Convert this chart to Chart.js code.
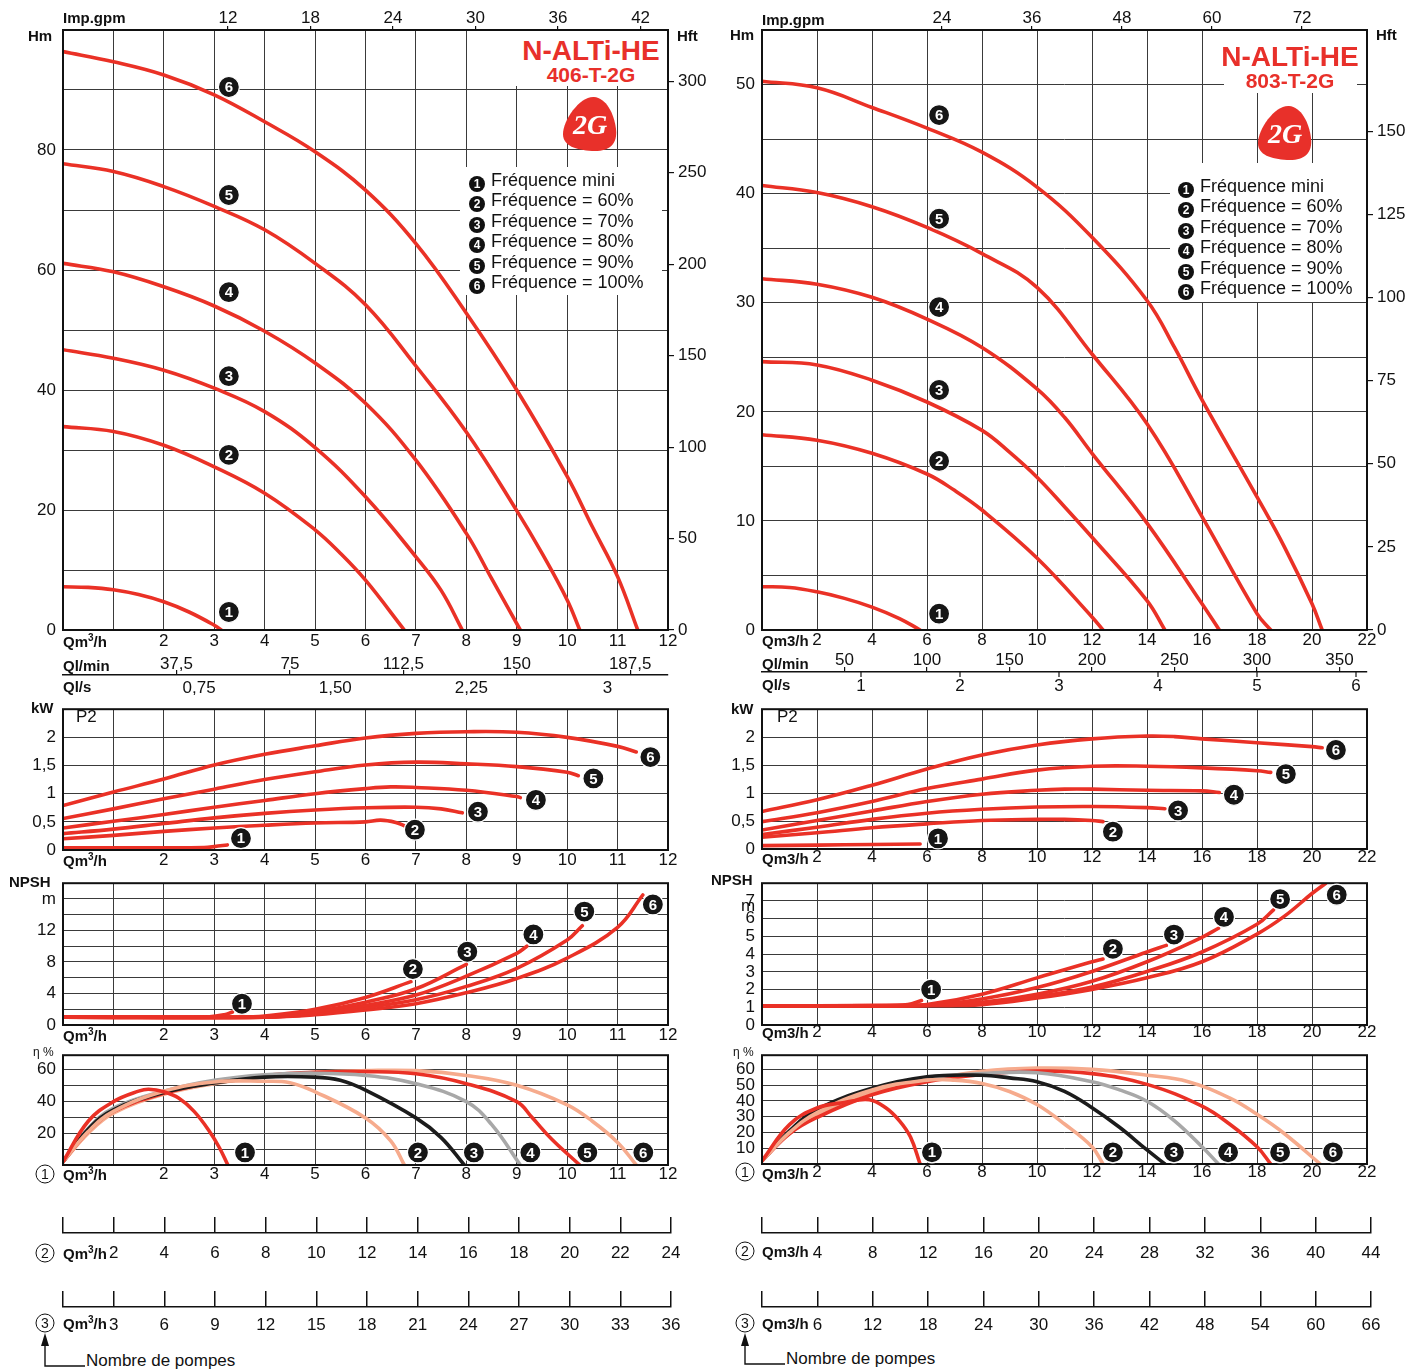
<!DOCTYPE html>
<html><head><meta charset="utf-8">
<script src="https://cdn.jsdelivr.net/npm/chart.js@4.4.1/dist/chart.umd.min.js"></script>
<style>
html,body{margin:0;padding:0;background:#fff;}
#page{position:relative;width:1408px;height:1369px;overflow:hidden;background:#fff;font-family:'Liberation Sans',Arial,sans-serif;color:#111;}
canvas{position:absolute;}
.t{position:absolute;white-space:nowrap;line-height:1;transform:translateY(-50%);}
.b{font-weight:bold;font-size:15px;}
.n{font-size:17px;}
.s{font-size:12px;}
.sup{font-size:10px;position:relative;top:-6px;}
.ring{position:absolute;width:17px;height:17px;border:1.3px solid #111;border-radius:50%;font-size:14px;line-height:17px;text-align:center;transform:translate(-50%,-50%);}
.box{position:absolute;background:#fff;}
.title{position:absolute;color:#e8302a;font-weight:bold;text-align:center;line-height:1;transform:translate(-50%,-50%);white-space:nowrap;}
.leg{position:absolute;font-size:18px;white-space:nowrap;}
.leg div{height:20.4px;line-height:20.4px;}
.dot{display:inline-block;width:16px;height:16px;border-radius:50%;background:#111;color:#fff;font-weight:bold;font-size:12px;line-height:16px;text-align:center;margin-right:6px;vertical-align:-2px;}
</style></head><body><div id="page"></div>
<script>
// valeurs, débit en m3/h
const qLeftMax = 12, qRightMax = 22;
const gpmTicksLeft = [12, 18, 24, 30, 36, 42];
const gpmTicksRight = [24, 36, 48, 60, 72];
const hftTicksLeft = [0, 50, 100, 150, 200, 250, 300];
const hftTicksRight = [0, 25, 50, 75, 100, 125, 150];
const lminTicksLeft = [37.5, 75, 112.5, 150, 187.5];
const lsTicksLeft = [0.75, 1.5, 2.25, 3];
const lminTicksRight = [50, 100, 150, 200, 250, 300, 350];
const lsTicksRight = [1, 2, 3, 4, 5, 6];
const freqLabels = ['Fréquence mini', 'Fréquence = 60%', 'Fréquence = 70%', 'Fréquence = 80%', 'Fréquence = 90%', 'Fréquence = 100%'];

// Hauteur (m) - 406-T-2G
const headLeft = [
  [[0,7.2],[0.5,7.1],[1,6.7],[1.5,5.9],[2,4.7],[2.5,3.0],[3,0.8],[3.14,0]],
  [[0,33.9],[1,33.1],[2,30.8],[3,27.2],[4,22.8],[5,16.7],[5.5,12.8],[6,8.3],[6.77,0]],
  [[0,46.7],[1,45.3],[2,43.3],[3,40.3],[4,36.4],[5,30.4],[6,22.2],[7,12.2],[7.5,6.6],[7.92,0]],
  [[0,61.1],[1,59.7],[2,57.2],[3,54.0],[4,49.8],[5,44.5],[6,37.8],[7,28.3],[8,16.1],[8.5,8.6],[9.07,0]],
  [[0,77.7],[1,76.4],[2,73.9],[3,70.6],[4,66.7],[5,61.1],[6,54.2],[7,44.0],[8,33.0],[9,19.9],[9.5,12.8],[10,5.0],[10.25,0]],
  [[0,96.4],[1,94.7],[2,92.5],[3,89.2],[4,84.7],[5,79.7],[6,73.3],[7,64.4],[8,52.8],[9,40.0],[10,25.6],[10.5,17.2],[11,8.9],[11.4,0]]
];
const headLeftMarks = [[3.29,3.0],[3.29,29.2],[3.29,42.3],[3.29,56.3],[3.29,72.5],[3.29,90.5]];

// Puissance P2 (kW) - 406-T-2G
const powerLeft = [
  [[0,0.04],[1,0.04],[2,0.04],[2.8,0.045],[3,0.06],[3.26,0.09]],
  [[0,0.20],[1,0.26],[2,0.33],[3,0.39],[4,0.44],[5,0.48],[6,0.50],[6.3,0.53],[6.6,0.49],[6.77,0.43]],
  [[0,0.29],[1,0.37],[2,0.47],[3,0.57],[4,0.65],[5,0.71],[6,0.75],[7,0.76],[7.5,0.73],[7.92,0.66]],
  [[0,0.39],[1,0.51],[2,0.63],[3,0.76],[4,0.88],[5,1.0],[6,1.09],[6.5,1.12],[7,1.11],[8,1.06],[9,0.95],[9.07,0.93]],
  [[0,0.56],[1,0.73],[2,0.91],[3,1.08],[4,1.25],[5,1.39],[6,1.51],[7,1.56],[8,1.53],[9,1.48],[10,1.38],[10.22,1.32]],
  [[0,0.79],[1,1.03],[2,1.26],[3,1.51],[4,1.70],[5,1.85],[6,1.99],[7,2.07],[8,2.10],[9,2.09],[10,2.0],[11,1.84],[11.37,1.74]]
];
const powerLeftMarks = [[3.53,0.21],[6.98,0.36],[8.23,0.68],[9.38,0.89],[10.52,1.27],[11.65,1.65]];

// NPSH (m) - 406-T-2G
const npshLeft = [
  [[0,1.0],[2.9,1.05],[3.2,1.3],[3.36,1.65]],
  [[0,1.0],[3.5,1.0],[4,1.15],[5,2.0],[6,3.5],[6.9,5.5]],
  [[0,1.0],[4,1.05],[5,1.7],[6,2.9],[7,4.6],[8,7.7]],
  [[0,1.0],[4,1.0],[5,1.5],[6,2.5],[7,3.8],[8,6.2],[9,9.1],[9.2,10.0]],
  [[0,1.0],[4,1.0],[5,1.4],[6,2.2],[7,3.2],[8,4.9],[9,7.2],[10,10.8],[10.3,12.6]],
  [[0,1.0],[4,1.0],[5,1.3],[6,1.9],[7,2.7],[8,4.1],[9,5.9],[10,8.5],[11,12.4],[11.5,16.5]]
];
const npshLeftMarks = [[3.55,2.7],[6.94,7.1],[8.02,9.3],[9.33,11.5],[10.34,14.4],[11.7,15.3]];

// Rendement (%) - 406-T-2G
const effLeft = [
  [[0,2],[0.5,27.5],[1,39.8],[1.5,46.4],[1.7,47.6],[2,46],[2.3,41.9],[2.6,33.7],[2.9,21.4],[3.1,11],[3.27,0]],
  [[0,2],[0.5,21],[1,33.7],[2,46.4],[3,52.2],[4,52.6],[4.5,51.7],[5,46],[6,29.6],[6.5,15.2],[6.77,0]],
  [[0,2],[0.5,22.5],[1,34.7],[2,45.6],[3,51.5],[4,55.2],[5,55.2],[5.5,53.2],[6,47],[7,29.6],[7.5,17.2],[7.96,0]],
  [[0,2],[0.5,23],[1,35.7],[2,46.4],[3,53.2],[4,56.7],[5,57.7],[6,56.3],[7,51.1],[8,39.8],[8.5,25.5],[9.07,0]],
  [[0,2],[0.5,21],[1,33.7],[2,45],[3,52.2],[4,56.3],[5,58.3],[6,58.7],[7,57.3],[8,51.1],[9,39.8],[9.3,30],[9.7,16],[10.25,0]],
  [[0,2],[0.5,20],[1,32.6],[2,44.4],[3,51.1],[4,55.6],[5,58.3],[6,59.3],[7,59.3],[8,56.3],[9,50.1],[10,37.8],[10.5,27.5],[11,14.2],[11.37,0]]
];
const effLeftMarks = [[3.61,7.9],[7.04,7.9],[8.15,7.9],[9.27,7.9],[10.4,7.9],[11.51,7.9]];

// Hauteur (m) - 803-T-2G
const headRight = [
  [[0,3.97],[1,3.9],[2,3.5],[3,2.9],[4,2.1],[5,1.05],[5.75,0]],
  [[0,17.9],[2,17.4],[4,16.2],[6,14.3],[7,12.8],[8,11.0],[10,6.6],[12,1.2],[12.4,0]],
  [[0,24.6],[2,24.3],[4,22.9],[6,20.9],[8,18.3],[9,16.3],[10,14.0],[11,11.3],[12,8.5],[14,2.7],[14.65,0]],
  [[0,32.2],[2,31.7],[4,30.5],[6,28.5],[8,25.9],[10,22.1],[11,19.5],[12,16.2],[14,9.8],[16,2.4],[16.63,0]],
  [[0,40.75],[2,40.1],[4,38.8],[6,36.9],[8,34.5],[10,31.4],[12,25.3],[14,18.9],[16,10.4],[18,1.5],[18.5,0]],
  [[0,50.3],[2,49.7],[4,47.9],[6,46.0],[8,43.8],[10,40.6],[12,36.0],[14,30.2],[15,25.9],[16,21.1],[18,12.2],[19,7.6],[20,2.4],[20.37,0]]
];
const headRightMarks = [[6.44,1.5],[6.44,15.5],[6.44,22.0],[6.44,29.6],[6.44,37.7],[6.44,47.2]];

// Puissance P2 (kW) - 803-T-2G
const powerRight = [
  [[0,0.06],[2,0.07],[4,0.08],[5.75,0.09]],
  [[0,0.21],[2,0.29],[4,0.38],[6,0.45],[8,0.51],[10,0.53],[11,0.53],[12,0.51],[12.4,0.49]],
  [[0,0.26],[2,0.39],[4,0.53],[6,0.64],[8,0.71],[10,0.75],[12,0.76],[14,0.74],[14.65,0.72]],
  [[0,0.34],[2,0.51],[4,0.68],[6,0.85],[8,0.98],[10,1.05],[11,1.07],[12,1.07],[14,1.05],[16,1.04],[16.63,1.01]],
  [[0,0.49],[2,0.65],[4,0.85],[6,1.08],[8,1.25],[10,1.41],[12,1.48],[14,1.48],[16,1.45],[18,1.40],[18.5,1.37]],
  [[0,0.67],[2,0.88],[4,1.14],[6,1.43],[8,1.68],[10,1.86],[12,1.97],[14,2.02],[15,2.01],[16,1.97],[18,1.90],[20,1.83],[20.37,1.81]]
];
const powerRightMarks = [[6.4,0.19],[12.76,0.31],[15.13,0.69],[17.16,0.97],[19.05,1.34],[20.87,1.77]];

// NPSH (m) - 803-T-2G
const npshRight = [
  [[0,1.08],[4,1.1],[5.3,1.15],[5.8,1.38]],
  [[0,1.08],[5,1.1],[6,1.15],[8,1.74],[10,2.66],[12,3.57],[12.4,3.72]],
  [[0,1.08],[6,1.12],[8,1.47],[10,2.11],[12,3.02],[14,4.12],[14.7,4.49]],
  [[0,1.08],[6,1.1],[8,1.28],[10,1.74],[12,2.47],[14,3.57],[16,4.95],[16.6,5.46]],
  [[0,1.08],[6,1.1],[8,1.19],[10,1.59],[12,2.14],[14,3.02],[16,4.12],[18,5.68],[18.6,6.5]],
  [[0,1.08],[6,1.1],[8,1.15],[10,1.52],[12,2.01],[14,2.66],[16,3.57],[18,5.13],[19,6.14],[20,7.42],[20.5,8.0]]
];
const npshRightMarks = [[6.15,2.0],[12.76,4.3],[14.98,5.1],[16.8,6.1],[18.84,7.1],[20.9,7.35]];

// Rendement (%) - 803-T-2G
const effRight = [
  [[0,2],[1,25],[2,35.5],[3,39],[3.9,40.8],[4.5,35.7],[5,27.4],[5.4,17.1],[5.75,0]],
  [[0,2],[1,20],[2,32.6],[4,47],[6,53.2],[7,53.2],[8,51.1],[9,46],[10,37.7],[11,25.4],[12,10.9],[12.4,0]],
  [[0,2],[1,21],[2,34.6],[4,48],[6,55.3],[8,56.3],[9,54.6],[10,52.2],[11,46],[12,35.7],[13,23.3],[14,8.9],[14.65,0]],
  [[0,2],[1,20.5],[2,33.2],[4,47.4],[6,54.6],[8,57.3],[10,57.9],[12,52.2],[13,47],[14,39.8],[15,27.4],[16,10.9],[16.6,0]],
  [[0,2],[1,19.2],[2,29.5],[4,43.9],[6,52.2],[8,56.7],[10,59],[12,57.3],[14,50.5],[16,36.7],[17,25.4],[18,10.9],[18.5,0]],
  [[0,2],[1,20],[2,31.5],[4,46],[6,53.2],[8,58.8],[10,60.8],[12,60],[14,56.3],[15.5,52.2],[17,41.9],[18,31.5],[19,19.2],[20.3,0]]
];
const effRightMarks = [[6.18,7.4],[12.76,7.4],[14.98,7.4],[16.95,7.4],[18.84,7.4],[20.76,7.4]];

const RED = '#ea3126', SALMON = '#f6ab8d', BLACK = '#1c1c1c', GREY = '#a8a8a8', GRID = '#3a3a3a';
const effColors = [RED, SALMON, BLACK, GREY, RED, SALMON];
const GPM = 3.6661, LPM = 1000 / 60, LPS = 1 / 3.6, FT = 0.3048;
const FONT = "'Liberation Sans', Arial, sans-serif";

Chart.defaults.font.family = FONT;
Chart.defaults.font.size = 17;
Chart.defaults.color = '#111';

const page = document.getElementById('page');

const steps = (max, step) => Array.from({length: Math.floor(max / step + 1e-9) + 1}, (_, i) => ({value: +(i * step).toFixed(6)}));
const comma = v => String(v).replace('.', ',');

function lines(curves, colors) {
  return curves.map((pts, i) => ({
    data: pts.map(([x, y]) => ({x, y})),
    borderColor: colors[i], borderWidth: 3.6, pointRadius: 0,
    tension: 0.4, fill: false, borderCapStyle: 'round'
  }));
}

const frame = {
  id: 'frame',
  afterDatasetsDraw(chart) {
    const {ctx, chartArea: a} = chart;
    ctx.save();
    ctx.strokeStyle = '#111';
    ctx.lineWidth = 2;
    ctx.strokeRect(a.left, a.top, a.right - a.left, a.bottom - a.top);
    ctx.restore();
  }
};

function markers(list) {
  return {
    id: 'markers',
    afterDatasetsDraw(chart) {
      const {ctx, scales: {x, y}} = chart;
      ctx.save();
      list.forEach(([q, v], i) => {
        const px = x.getPixelForValue(q), py = y.getPixelForValue(v);
        ctx.beginPath();
        ctx.arc(px, py, 10.5, 0, Math.PI * 2);
        ctx.fillStyle = '#161616';
        ctx.fill();
        ctx.lineWidth = 1.2;
        ctx.strokeStyle = '#fff';
        ctx.stroke();
        ctx.fillStyle = '#fff';
        ctx.font = 'bold 15px ' + FONT;
        ctx.textAlign = 'center';
        ctx.textBaseline = 'middle';
        ctx.fillText(String(i + 1), px, py + 1);
      });
      ctx.restore();
    }
  };
}

const downTicks = {
  id: 'downTicks',
  afterDraw(chart) {
    const s = chart.scales.ls, ctx = chart.ctx, y0 = chart.chartArea.top;
    ctx.save();
    ctx.strokeStyle = '#111';
    ctx.lineWidth = 1.2;
    s.ticks.forEach(t => {
      const x = s.getPixelForValue(t.value);
      ctx.beginPath(); ctx.moveTo(x, y0); ctx.lineTo(x, y0 + 5); ctx.stroke();
    });
    ctx.restore();
  }
};

function panel(rect, m, cfg) {
  const c = document.createElement('canvas');
  const w = rect.r - rect.l + m.l + m.r, h = rect.b - rect.t + m.t + m.b;
  c.width = w; c.height = h;
  c.style.left = (rect.l - m.l) + 'px';
  c.style.top = (rect.t - m.t) + 'px';
  c.style.width = w + 'px';
  c.style.height = h + 'px';
  page.appendChild(c);
  cfg.options = Object.assign({
    responsive: false, animation: false, devicePixelRatio: 1, events: [],
    plugins: {legend: {display: false}, tooltip: {enabled: false}}
  }, cfg.options);
  return new Chart(c, cfg);
}

function xScale(o, m) {
  return {
    type: 'linear', min: 0, max: o.qMax,
    afterBuildTicks: s => { s.ticks = steps(o.qMax, o.qStep); },
    afterFit: s => { s.height = m.b; },
    ticks: {autoSkip: false, maxRotation: 0, padding: o.xPad, callback: v => v < o.qHide ? '' : v},
    grid: {color: GRID, lineWidth: 1, drawTicks: false},
    border: {display: false}
  };
}

function yScale(o, m) {
  return {
    type: 'linear', min: 0, max: o.yMax,
    afterBuildTicks: s => { s.ticks = steps(o.yMax, o.yStep); },
    afterFit: s => { s.width = m.l; },
    ticks: {autoSkip: false, padding: 7, callback: o.yLabel},
    grid: {color: GRID, lineWidth: 1, drawTicks: false},
    border: {display: false}
  };
}

function headPanel(rect, curves, marks, o) {
  const m = {l: 60, t: 30, r: 60, b: 22};
  return panel(rect, m, {
    type: 'line',
    data: {datasets: lines(curves, curves.map(() => RED))},
    options: {
      layout: {padding: 0},
      scales: {
        x: xScale(o, m),
        gpm: {
          type: 'linear', position: 'top', min: 0, max: o.qMax * GPM,
          afterBuildTicks: s => { s.ticks = o.gpm.map(v => ({value: v})); },
          afterFit: s => { s.height = m.t; },
          ticks: {autoSkip: false, maxRotation: 0, padding: -3},
          grid: {drawOnChartArea: false, drawTicks: true, tickLength: 4, color: '#111', lineWidth: 1.2},
          border: {display: false}
        },
        y: yScale(o, m),
        hft: {
          type: 'linear', position: 'right', min: 0, max: o.yMax / FT,
          afterBuildTicks: s => { s.ticks = o.hft.map(v => ({value: v})); },
          afterFit: s => { s.width = m.r; },
          ticks: {autoSkip: false, padding: 4},
          grid: {drawOnChartArea: false, drawTicks: true, tickLength: 6, color: '#111', lineWidth: 1.2},
          border: {display: false}
        }
      }
    },
    plugins: [frame, markers(marks)]
  });
}

function plainPanel(rect, curves, colors, marks, o) {
  const m = {l: 60, t: 14, r: 50, b: 22};
  return panel(rect, m, {
    type: 'line',
    data: {datasets: lines(curves, colors)},
    options: {
      layout: {padding: {top: m.t, right: m.r}},
      scales: {x: xScale(o, m), y: yScale(o, m)}
    },
    plugins: [frame, markers(marks)]
  });
}

function qlPanel(rect, o) {
  const m = {l: 10, t: 26, r: 40, b: 26};
  return panel(rect, m, {
    type: 'line',
    data: {datasets: []},
    options: {
      layout: {padding: {left: m.l, right: m.r}},
      scales: {
        lmin: {
          type: 'linear', position: 'top', min: 0, max: o.qMax * LPM,
          afterBuildTicks: s => { s.ticks = o.lmin.map(v => ({value: v})); },
          afterFit: s => { s.height = m.t; },
          ticks: {autoSkip: false, maxRotation: 0, padding: o.topPad, callback: comma},
          grid: {drawOnChartArea: false, drawTicks: true, tickLength: 5, color: '#111', lineWidth: 1.2},
          border: {display: true, color: '#111', width: 1.6}
        },
        ls: {
          type: 'linear', position: 'bottom', min: 0, max: o.qMax * LPS,
          afterBuildTicks: s => { s.ticks = o.ls.map(v => ({value: v})); },
          afterFit: s => { s.height = m.b; },
          ticks: {autoSkip: false, maxRotation: 0, padding: o.botPad,
            callback: v => Number.isInteger(v) ? String(v) : v.toFixed(2).replace('.', ',')},
          grid: {display: false}, border: {display: false}
        },
        y: {display: false}
      }
    },
    plugins: o.down ? [downTicks] : []
  });
}

function rowPanel(rect, o) {
  const m = {l: 10, t: 4, r: 40, b: 30};
  return panel(rect, m, {
    type: 'line',
    data: {datasets: []},
    options: {
      layout: {padding: {left: m.l, right: m.r, top: m.t}},
      scales: {
        x: {
          type: 'linear', position: 'bottom', min: 0, max: o.max,
          afterBuildTicks: s => { s.ticks = steps(o.max, o.step); },
          afterFit: s => { s.height = m.b; },
          ticks: {autoSkip: false, maxRotation: 0, padding: o.pad, callback: v => v ? v : ''},
          grid: {color: '#111', lineWidth: 1.5, drawTicks: false},
          border: {display: true, color: '#111', width: 1.6}
        },
        y: {display: false}
      }
    }
  });
}

// ---- colonne gauche : 406-T-2G ----
const L = {l: 63, r: 668};
headPanel({...L, t: 30, b: 630}, headLeft, headLeftMarks,
  {qMax: qLeftMax, qStep: 1, qHide: 2, xPad: 1, yMax: 100, yStep: 10, gpm: gpmTicksLeft, hft: hftTicksLeft,
   yLabel: v => (v % 20 === 0 && v < 100) ? v : ''});
qlPanel({...L, t: 675, b: 676}, {qMax: qLeftMax, lmin: lminTicksLeft, ls: lsTicksLeft, topPad: -5, botPad: -6});
plainPanel({...L, t: 706, b: 850}, powerLeft, powerLeft.map(() => RED), powerLeftMarks,
  {qMax: qLeftMax, qStep: 1, qHide: 2, xPad: 0, yMax: 2.5, yStep: 0.5, yLabel: v => v < 2.5 ? comma(v) : ''});
plainPanel({...L, t: 880, b: 1025}, npshLeft, npshLeft.map(() => RED), npshLeftMarks,
  {qMax: qLeftMax, qStep: 1, qHide: 2, xPad: 0, yMax: 18, yStep: 2,
   yLabel: v => v === 16 ? 'm' : (v % 4 === 0 && v <= 12 ? v : '')});
plainPanel({...L, t: 1052, b: 1165}, effLeft, effColors, effLeftMarks,
  {qMax: qLeftMax, qStep: 1, qHide: 2, xPad: -1, yMax: 69, yStep: 10,
   yLabel: v => (v === 20 || v === 40 || v === 60) ? v : ''});
rowPanel({l: 63, r: 671, t: 1217, b: 1233}, {max: 24, step: 2, pad: 10});
rowPanel({l: 63, r: 671, t: 1291, b: 1307}, {max: 36, step: 3, pad: 8});

// ---- colonne droite : 803-T-2G ----
const R = {l: 762, r: 1367};
headPanel({...R, t: 30, b: 630}, headRight, headRightMarks,
  {qMax: qRightMax, qStep: 2, qHide: 1, xPad: 0, yMax: 55, yStep: 5, gpm: gpmTicksRight, hft: hftTicksRight,
   yLabel: v => (v % 10 === 0 && v <= 50) ? v : ''});
qlPanel({...R, t: 672, b: 673}, {qMax: qRightMax, lmin: lminTicksRight, ls: lsTicksRight, topPad: -4, botPad: -5, down: true});
plainPanel({...R, t: 706, b: 849}, powerRight, powerRight.map(() => RED), powerRightMarks,
  {qMax: qRightMax, qStep: 2, qHide: 1, xPad: -2, yMax: 2.5, yStep: 0.5, yLabel: v => v < 2.5 ? comma(v) : ''});
plainPanel({...R, t: 880, b: 1025}, npshRight, npshRight.map(() => RED), npshRightMarks,
  {qMax: qRightMax, qStep: 2, qHide: 1, xPad: -3, yMax: 8, yStep: 1, yLabel: v => v < 8 ? v : ''});
plainPanel({...R, t: 1052, b: 1164}, effRight, effColors, effRightMarks,
  {qMax: qRightMax, qStep: 2, qHide: 1, xPad: -2, yMax: 69, yStep: 10,
   yLabel: v => (v > 0 && v <= 60) ? v : ''});
rowPanel({l: 762, r: 1371, t: 1217, b: 1233}, {max: 44, step: 4, pad: 10});
rowPanel({l: 762, r: 1371, t: 1291, b: 1307}, {max: 66, step: 6, pad: 8});

// ---- textes et cartouches ----
function txt(html, x, y, cls) {
  const d = document.createElement('div');
  d.className = 't ' + (cls || '');
  d.innerHTML = html;
  d.style.left = x + 'px';
  d.style.top = y + 'px';
  page.appendChild(d);
  return d;
}
function ring(n, x, y) {
  const d = document.createElement('div');
  d.className = 'ring';
  d.textContent = n;
  d.style.left = x + 'px';
  d.style.top = y + 'px';
  page.appendChild(d);
}
function box(x0, y0, x1, y1) {
  const d = document.createElement('div');
  d.className = 'box';
  Object.assign(d.style, {left: x0 + 'px', top: y0 + 'px', width: (x1 - x0) + 'px', height: (y1 - y0) + 'px'});
  page.appendChild(d);
}
function title(model, cx, y1, y2) {
  const a = document.createElement('div');
  a.className = 'title'; a.style.fontSize = '28px'; a.textContent = 'N-ALTi-HE';
  a.style.left = cx + 'px'; a.style.top = y1 + 'px';
  const b = document.createElement('div');
  b.className = 'title'; b.style.fontSize = '21px'; b.textContent = model;
  b.style.left = cx + 'px'; b.style.top = y2 + 'px';
  page.appendChild(a); page.appendChild(b);
}
function logo(cx, cy) {
  const ns = 'http://www.w3.org/2000/svg';
  const s = document.createElementNS(ns, 'svg');
  s.setAttribute('width', 60); s.setAttribute('height', 58);
  s.setAttribute('viewBox', '0 0 60 58');
  s.style.cssText = `position:absolute;left:${cx - 30}px;top:${cy - 29}px;`;
  s.innerHTML = '<path d="M34 2 C46 3 54 18 56 34 C58 50 48 57 32 56 C16 55 3 51 3 39 C3 25 20 1 34 2 Z" fill="#e8302a"/>' +
    '<text x="30" y="39" text-anchor="middle" font-family="Liberation Serif, serif" font-style="italic" font-weight="bold" font-size="28" fill="#fff">2G</text>';
  page.appendChild(s);
}
function legend(x0, y0, x1, y1, tx, ty) {
  box(x0, y0, x1, y1);
  const d = document.createElement('div');
  d.className = 'leg';
  d.style.left = tx + 'px'; d.style.top = ty + 'px';
  d.innerHTML = freqLabels.map((s, i) => `<div><span class="dot">${i + 1}</span>${s}</div>`).join('');
  page.appendChild(d);
}
const QM = 'Qm<span class="sup">3</span>/h';

// gauche
box(515, 31, 665, 86);
title('406-T-2G', 591, 51, 74);
logo(590, 124);
legend(460, 167, 662, 295, 469, 170);
txt('Imp.gpm', 63, 17, 'b');
txt('Hm', 28, 35, 'b');
txt('Hft', 677, 35, 'b');
txt(QM, 63, 641, 'b');
txt('Ql/min', 63, 665, 'b');
txt('Ql/s', 63, 686, 'b');
txt('kW', 31, 707, 'b');
txt('P2', 76, 716, 'n');
txt(QM, 63, 860, 'b');
txt('NPSH', 9, 881, 'b');
txt(QM, 63, 1035, 'b');
txt('η %', 33, 1052, 's');
ring('1', 45, 1174); txt(QM, 63, 1174, 'b');
ring('2', 45, 1253); txt(QM, 63, 1253, 'b');
ring('3', 45, 1323); txt(QM, 63, 1323, 'b');
txt('Nombre de pompes', 86, 1360, 'n');

// droite
box(1224, 31, 1357, 93);
title('803-T-2G', 1290, 57, 80);
logo(1285, 133);
legend(1170, 163, 1366, 302, 1178, 176);
txt('Imp.gpm', 762, 19, 'b');
txt('Hm', 730, 34, 'b');
txt('Hft', 1376, 34, 'b');
txt('Qm3/h', 762, 640, 'b');
txt('Ql/min', 762, 663, 'b');
txt('Ql/s', 762, 684, 'b');
txt('kW', 731, 708, 'b');
txt('P2', 777, 716, 'n');
txt('Qm3/h', 762, 858, 'b');
txt('NPSH', 711, 879, 'b');
txt('m', 741, 905, 'n');
txt('Qm3/h', 762, 1032, 'b');
txt('η %', 733, 1052, 's');
ring('1', 745, 1172); txt('Qm3/h', 762, 1173, 'b');
ring('2', 745, 1251); txt('Qm3/h', 762, 1251, 'b');
ring('3', 745, 1323); txt('Qm3/h', 762, 1323, 'b');
txt('Nombre de pompes', 786, 1358, 'n');

// flèches "Nombre de pompes"
(function () {
  const ns = 'http://www.w3.org/2000/svg';
  const s = document.createElementNS(ns, 'svg');
  s.setAttribute('width', 1408); s.setAttribute('height', 1369);
  s.style.cssText = 'position:absolute;left:0;top:0;pointer-events:none;';
  s.innerHTML =
    '<polyline points="45,1344 45,1366 85,1366" fill="none" stroke="#111" stroke-width="1.4"/>' +
    '<polygon points="45,1333 41,1346 49,1346" fill="#111"/>' +
    '<polyline points="745,1344 745,1364 785,1364" fill="none" stroke="#111" stroke-width="1.4"/>' +
    '<polygon points="745,1333 741,1346 749,1346" fill="#111"/>';
  page.appendChild(s);
})();
</script></body></html>
